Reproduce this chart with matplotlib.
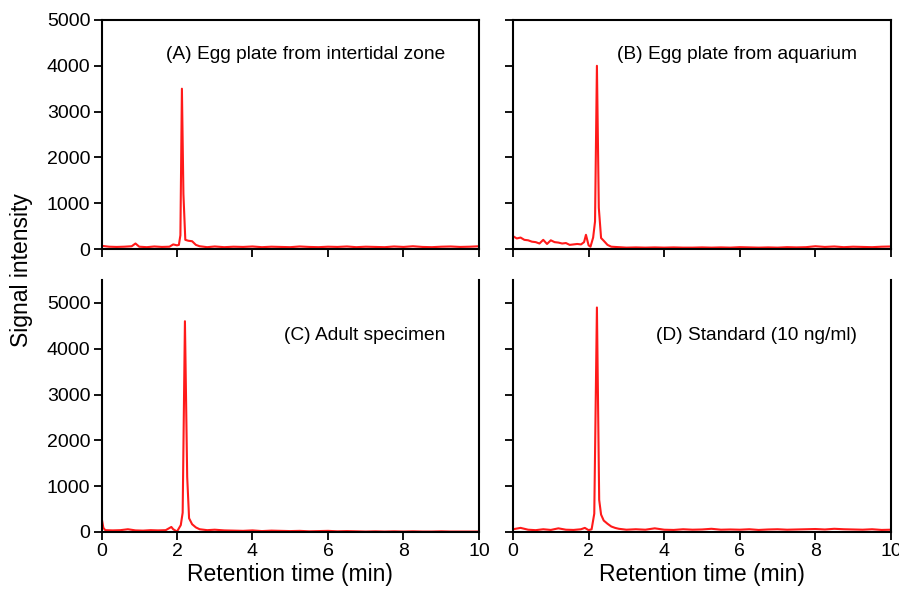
import matplotlib.pyplot as plt

plt.rcParams['font.family'] = ['Liberation Sans', 'DejaVu Sans']

# (A) egg plate from intertidal zone
tA = [0, 0.2, 0.4, 0.6, 0.8, 0.9, 1.0, 1.2, 1.4, 1.6, 1.8, 1.9, 2.0, 2.05, 2.09,
      2.13, 2.17, 2.22, 2.3, 2.4, 2.5, 2.6, 2.7, 2.8, 3.0, 3.25, 3.5, 3.75, 4.0,
      4.25, 4.5, 4.75, 5.0, 5.25, 5.5, 5.75, 6.0, 6.25, 6.5, 6.75, 7.0, 7.25,
      7.5, 7.75, 8.0, 8.25, 8.5, 8.75, 9.0, 9.25, 9.5, 9.75, 10.0]
yA = [70, 50, 45, 50, 60, 120, 50, 40, 55, 45, 50, 100, 80, 90, 300,
      3500, 1200, 200, 180, 170, 90, 60, 50, 40, 55, 40, 50, 45, 55,
      40, 50, 45, 40, 55, 45, 40, 50, 45, 55, 40, 50, 45, 40, 55,
      45, 60, 45, 40, 50, 55, 45, 50, 60]

# (B) egg plate from aquarium
tB = [0, 0.1, 0.2, 0.3, 0.4, 0.5, 0.6, 0.7, 0.8, 0.9, 1.0, 1.1, 1.2, 1.3, 1.4,
      1.5, 1.6, 1.7, 1.8, 1.88, 1.93, 2.0, 2.05, 2.12, 2.17, 2.22, 2.27, 2.33,
      2.4, 2.5, 2.6, 2.8, 3.0, 3.25, 3.5, 3.75, 4.0, 4.25, 4.5, 4.75, 5.0,
      5.25, 5.5, 5.75, 6.0, 6.25, 6.5, 6.75, 7.0, 7.25, 7.5, 7.75, 8.0, 8.25,
      8.5, 8.75, 9.0, 9.25, 9.5, 9.75, 10.0]
yB = [280, 230, 250, 200, 190, 160, 150, 120, 200, 110, 190, 150, 140, 120, 130,
      90, 100, 110, 100, 150, 310, 80, 50, 250, 600, 4000, 900, 240,
      180, 90, 50, 40, 30, 35, 30, 35, 30, 35, 30, 30, 35,
      30, 35, 30, 40, 35, 30, 35, 30, 40, 35, 40, 60, 45,
      55, 40, 50, 45, 40, 50, 55]

# (C) adult specimen
tC = [0, 0.05, 0.1, 0.3, 0.5, 0.7, 0.9, 1.1, 1.3, 1.5, 1.7, 1.85, 1.9, 2.0,
      2.1, 2.15, 2.21, 2.27, 2.32, 2.4, 2.5, 2.6, 2.8, 3.0, 3.25, 3.5, 3.75,
      4.0, 4.25, 4.5, 4.75, 5.0, 5.25, 5.5, 5.75, 6.0, 6.25, 6.5, 6.75, 7.0,
      7.25, 7.5, 7.75, 8.0, 8.25, 8.5, 8.75, 9.0, 9.25, 9.5, 9.75, 10.0]
yC = [320, 90, 40, 35, 40, 60, 35, 30, 40, 35, 40, 110, 60, 10,
      150, 420, 4600, 1200, 300, 170, 100, 60, 40, 50, 35, 30, 25,
      35, 20, 30, 25, 20, 25, 15, 20, 25, 15, 20, 15, 10,
      15, 10, 15, 10, 15, 10, 10, 15, 10, 10, 10, 10]

# (D) standard (10 ng/ml)
tD = [0, 0.2, 0.4, 0.6, 0.8, 1.0, 1.2, 1.4, 1.6, 1.8, 1.9, 2.0, 2.08, 2.15,
      2.22, 2.28, 2.33, 2.4, 2.5, 2.6, 2.7, 2.8, 3.0, 3.25, 3.5, 3.75, 4.0,
      4.25, 4.5, 4.75, 5.0, 5.25, 5.5, 5.75, 6.0, 6.25, 6.5, 6.75, 7.0, 7.25,
      7.5, 7.75, 8.0, 8.25, 8.5, 8.75, 9.0, 9.25, 9.5, 9.75, 10.0]
yD = [60, 90, 50, 40, 60, 45, 80, 50, 45, 60, 90, 40, 60, 400,
      4900, 700, 380, 250, 180, 120, 90, 70, 50, 60, 50, 80, 50,
      45, 60, 50, 55, 70, 50, 55, 50, 60, 45, 55, 60, 50,
      55, 60, 65, 55, 70, 60, 55, 50, 60, 45, 50]

labels = ['(A) Egg plate from intertidal zone', '(B) Egg plate from aquarium',
          '(C) Adult specimen', '(D) Standard (10 ng/ml)']
series = [(tA, yA), (tB, yB), (tC, yC), (tD, yD)]

fig = plt.figure(figsize=(8.99, 5.92), dpi=100)
W, H = 899, 592
# axes rectangles in pixels: left, top, right, bottom
boxes = [(101.5, 20, 479, 249), (513, 20, 891, 249),
         (101.5, 280, 479, 532), (513, 280, 891, 532)]

for i, (l, t, r, b) in enumerate(boxes):
    ax = fig.add_axes([l / W, 1 - b / H, (r - l) / W, (b - t) / H])
    x, y = series[i]
    ax.plot(x, y, color='#ff1a1a', lw=1.5)
    ax.set_xlim(0, 10)
    ax.set_xticks([0, 2, 4, 6, 8, 10])
    top = i < 2
    ax.set_ylim(0, 5000 if top else 5500)
    ax.set_yticks([0, 1000, 2000, 3000, 4000, 5000])
    for s in ax.spines.values():
        s.set_linewidth(1.5)
    if not top:
        ax.spines['top'].set_visible(False)
        ax.set_xlabel('Retention time (min)', fontsize=16.5, labelpad=2)
    else:
        ax.tick_params(axis='x', labelbottom=False)
    if i % 2 == 1:
        ax.tick_params(axis='y', labelleft=False)
    ax.tick_params(direction='out', length=6, width=1.3, labelsize=14, pad=2)
    ax.text(9.1, 4250 if top else 4280, labels[i], ha='right', va='center',
            fontsize=13.8)

fig.text(22 / W, 1 - 270 / H, 'Signal intensity', rotation=90, ha='center',
         va='center', fontsize=16.5)

fig.savefig('out.png', dpi=100)
